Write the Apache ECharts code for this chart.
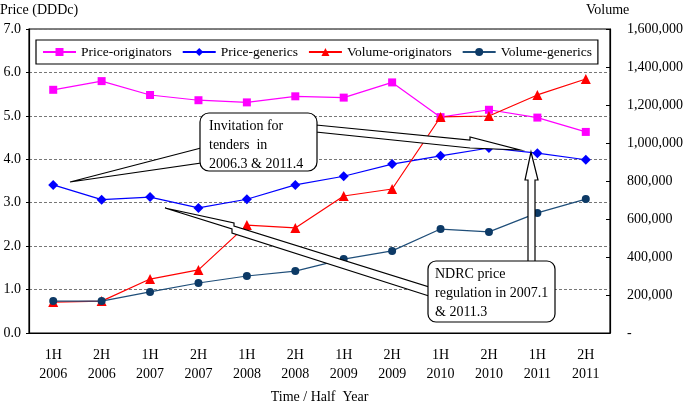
<!DOCTYPE html>
<html><head><meta charset="utf-8">
<script src="https://cdn.jsdelivr.net/npm/echarts@6/dist/echarts.min.js"></script>
<style>html,body{margin:0;padding:0;background:#fff}#c{width:685px;height:404px}</style>
</head><body><div id="c"></div>
<script>
var categories = ['1H\n2006','2H\n2006','1H\n2007','2H\n2007','1H\n2008','2H\n2008','1H\n2009','2H\n2009','1H\n2010','2H\n2010','1H\n2011','2H\n2011'];
var priceOriginators = [5.60, 5.80, 5.48, 5.36, 5.31, 5.45, 5.42, 5.77, 4.97, 5.14, 4.96, 4.63];
var priceGenerics = [3.41, 3.07, 3.13, 2.88, 3.08, 3.41, 3.61, 3.89, 4.08, 4.26, 4.14, 3.99];
var volumeOriginators = [163000, 168000, 284000, 332000, 568000, 553000, 721000, 758000, 1137000, 1142000, 1253000, 1337000];
var volumeGenerics = [168000, 168000, 216000, 263000, 300000, 326000, 389000, 432000, 547000, 532000, 632000, 705000];
var priceTicks = [0,1,2,3,4,5,6,7];
var volumeTicks = [0,200000,400000,600000,800000,1000000,1200000,1400000,1600000];

var FONT = '"Liberation Serif", "DejaVu Serif", serif';
var chart = echarts.init(document.getElementById('c'), null, {renderer:'canvas'});
function fmtNum(v){ if(v===0) return '-'; return v.toString().replace(/\B(?=(\d{3})+(?!\d))/g, ','); }
var option = {
  animation:false,
  textStyle:{fontFamily:FONT},
  grid:{left:29, right:75, top:29, bottom:71, show:true, borderColor:'#000', borderWidth:1.2, backgroundColor:'transparent', containLabel:false, outerBoundsMode:'none'},
  legend:{
    left:36, top:40,
    padding:[5,6,5,6], itemGap:10, itemWidth:33, itemHeight:10,
    borderColor:'#000', borderWidth:1.2, backgroundColor:'#fff',
    textStyle:{fontFamily:FONT, fontSize:13.5, color:'#000'},
    data:['Price-originators','Price-generics','Volume-originators','Volume-generics']
  },
  xAxis:{
    type:'category', data:categories, boundaryGap:true,
    axisLine:{lineStyle:{color:'#000', width:1.2}},
    axisTick:{inside:true, length:4, lineStyle:{color:'#000'}},
    axisLabel:{fontFamily:FONT, fontSize:14, color:'#000', margin:13, lineHeight:19},
    name:'Time / Half  Year', nameLocation:'middle', nameGap:57,
    nameTextStyle:{fontFamily:FONT, fontSize:14, color:'#000'}
  },
  yAxis:[{
    type:'value', min:priceTicks[0], max:priceTicks[priceTicks.length-1], interval:1,
    axisLine:{show:true, lineStyle:{color:'#000', width:1.2}},
    axisTick:{show:true, length:3, lineStyle:{color:'#000'}},
    axisLabel:{fontFamily:FONT, fontSize:14, color:'#000', margin:8, formatter:function(v){return v.toFixed(1);}},
    splitLine:{show:true, lineStyle:{color:'#777', type:[3,2], width:1}}
  },{
    type:'value', min:volumeTicks[0], max:volumeTicks[volumeTicks.length-1], interval:200000,
    axisLine:{show:true, lineStyle:{color:'#000', width:1.2}},
    axisTick:{show:true, inside:true, length:4, lineStyle:{color:'#000'}},
    axisLabel:{fontFamily:FONT, fontSize:14, color:'#000', margin:17, formatter:fmtNum},
    splitLine:{show:false}
  }],
  series:[
    {name:'Price-originators', type:'line', yAxisIndex:0, data:priceOriginators, symbol:'rect', symbolSize:8,
     itemStyle:{color:'#FF00FF'}, lineStyle:{color:'#FF00FF', width:1.2}, z:3},
    {name:'Price-generics', type:'line', yAxisIndex:0, data:priceGenerics, symbol:'diamond', symbolSize:10,
     itemStyle:{color:'#0000FF'}, lineStyle:{color:'#0000FF', width:1.2}, z:3},
    {name:'Volume-originators', type:'line', yAxisIndex:1, data:volumeOriginators, symbol:'triangle', symbolSize:10,
     itemStyle:{color:'#FF0000'}, lineStyle:{color:'#FF0000', width:1.2}, z:3},
    {name:'Volume-generics', type:'line', yAxisIndex:1, data:volumeGenerics, symbol:'circle', symbolSize:8,
     itemStyle:{color:'#0D3A66'}, lineStyle:{color:'#1F4E79', width:1.2}, z:3}
  ],
  graphic:[
    {type:'text', left:0, top:3, style:{text:'Price (DDDc)', font:'14px '+FONT, fill:'#000'}},
    {type:'text', left:586, top:3, style:{text:'Volume', font:'14px '+FONT, fill:'#000'}},
    {type:'polygon', shape:{points:[[201,148],[70,182],[201,163]]}, style:{fill:'#fff', stroke:'#000', lineWidth:1.2}, z:10},
    {type:'rect', shape:{x:200, y:113, width:117, height:58, r:9}, style:{fill:'#fff', stroke:'#000', lineWidth:1.2}, z:11},
    {type:'text', x:209, y:117, style:{text:'Invitation for\ntenders  in\n2006.3 & 2011.4', font:'14px '+FONT, fill:'#000', lineHeight:19}, z:12},
    {type:'polygon', shape:{points:[[316,125],[470,140],[470,137],[520,150],[470,148],[316,132]]}, style:{fill:'#fff', stroke:'#000', lineWidth:1.2}, z:10},
    {type:'polygon', shape:{points:[[165,208],[234,223],[234,226],[429,287],[429,296],[232,233],[232,229]]}, style:{fill:'#fff', stroke:'#000', lineWidth:1.2}, z:10},
    {type:'polygon', shape:{points:[[528,262],[528,180],[525,180],[531,152],[538,180],[535,180],[535,262]]}, style:{fill:'#fff', stroke:'#000', lineWidth:1.2}, z:10},
    {type:'rect', shape:{x:428, y:261, width:127, height:61, r:8}, style:{fill:'#fff', stroke:'#000', lineWidth:1.2}, z:11},
    {type:'text', x:435, y:265, style:{text:'NDRC price\nregulation in 2007.1\n& 2011.3', font:'14px '+FONT, fill:'#000', lineHeight:19}, z:12}
  ]
};
chart.setOption(option);
</script>
</body></html>
